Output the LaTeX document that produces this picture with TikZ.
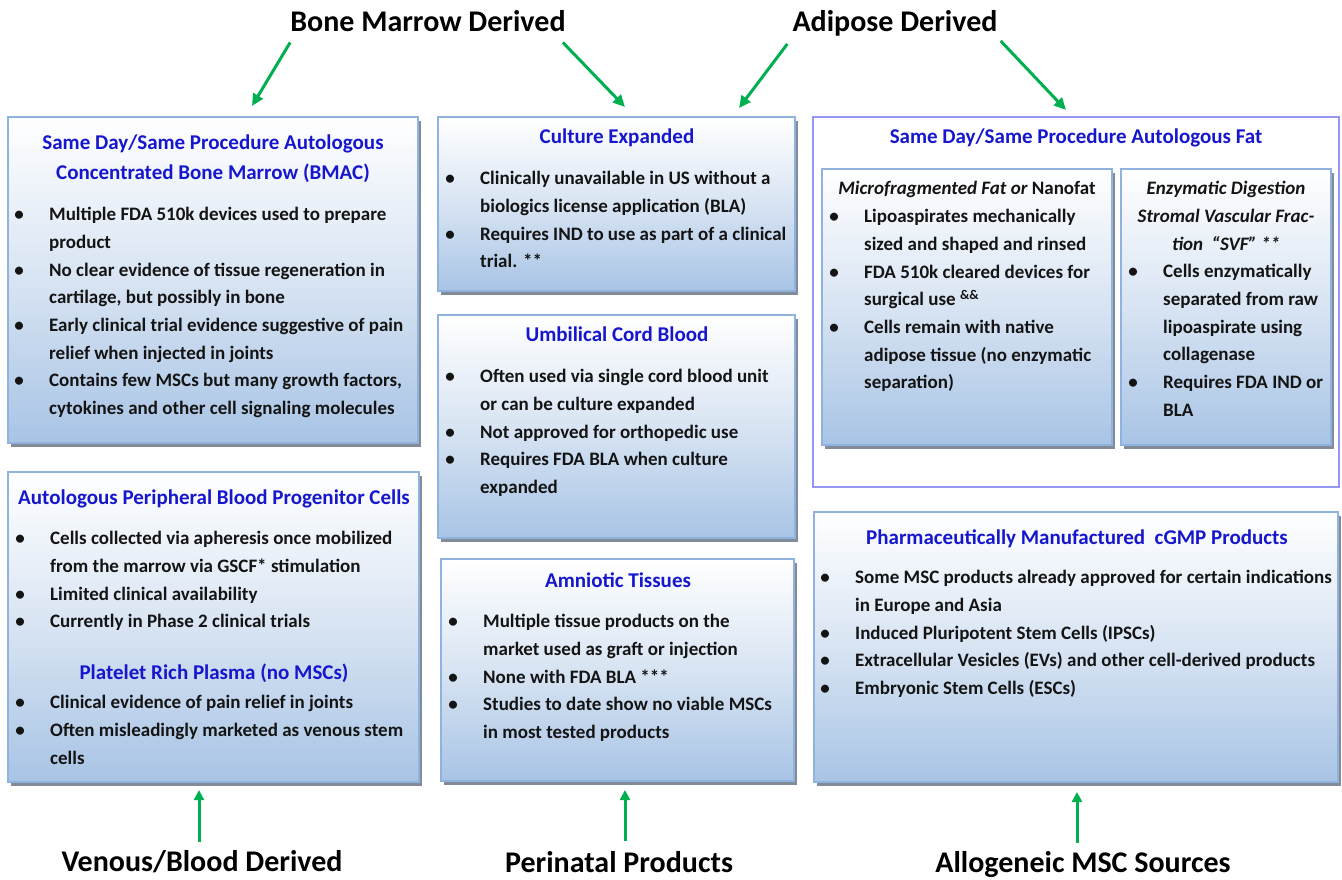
\documentclass[tikz,border=0pt]{standalone}
\usepackage{fontspec}
\setmainfont{Carlito}
\usetikzlibrary{arrows.meta,shadows,calc}
\definecolor{tblue}{RGB}{22,22,205}
\definecolor{bodyk}{RGB}{20,20,20}
\definecolor{bord}{RGB}{143,178,222}
\definecolor{boxbot}{RGB}{168,196,229}
\definecolor{boxmid}{RGB}{216,228,243}
\definecolor{shad}{RGB}{130,140,152}
\definecolor{framec}{RGB}{150,150,245}
\definecolor{agreen}{RGB}{0,176,80}
\newcommand\bl{\leavevmode\llap{\makebox[30pt][l]{\makebox[0pt][c]{\textbullet}}}\strut}
\newcommand\bodyfont{\fontsize{19}{27.7}\selectfont\bfseries}
\newcommand\ttlfont{\fontsize{21}{28}\selectfont\bfseries}
\tikzset{
  bx/.style={draw=bord, line width=1.6pt, top color=white, bottom color=boxbot, middle color=boxmid,
    inner sep=0pt, outer sep=0pt, anchor=north west,
    drop shadow={shadow xshift=3pt, shadow yshift=-4pt, fill=shad, opacity=1}},
  framebox/.style={draw=framec, line width=1.3pt, fill=white, inner sep=0pt, outer sep=0pt, anchor=north west},
  body/.style={anchor=north west, inner sep=0pt, align=left, font=\bodyfont, text=bodyk},
  ttl/.style={anchor=base, inner sep=0pt, font=\ttlfont, text=tblue},
  ttlk/.style={anchor=base, inner sep=0pt, font=\fontsize{19}{28}\selectfont\bfseries, text=bodyk},
  lab/.style={anchor=base, inner sep=0pt, font=\fontsize{30}{36}\selectfont\bfseries, text=black},
  garrow/.style={draw=agreen, line width=3pt, -{Triangle[length=12pt,width=11pt]}},
  garrowb/.style={draw=agreen, line width=3pt, -{Triangle[length=10pt,width=10pt]}}
}
\begin{document}
\begin{tikzpicture}[x=1pt,y=-1pt]
\useasboundingbox (0,0) rectangle (1342,880);
% ---------- boxes ----------
\node[bx, minimum width=410pt, minimum height=326pt] (bmac) at (8,117) {};
\node[bx, minimum width=411pt, minimum height=310pt] (pbpc) at (8,472) {};
\node[bx, minimum width=357pt, minimum height=174pt] (cult) at (438,117) {};
\node[bx, minimum width=357pt, minimum height=223pt] (ucb) at (438,315) {};
\node[bx, minimum width=353pt, minimum height=222pt] (amn) at (441,559) {};
\node[framebox, minimum width=526pt, minimum height=370pt] (fat) at (813,117) {};
\node[bx, minimum width=290pt, minimum height=276pt] (micro) at (822,169) {};
\node[bx, minimum width=210pt, minimum height=276pt] (enz) at (1121,169) {};
\node[bx, minimum width=524pt, minimum height=270pt] (pharma) at (814,512) {};
% ---------- BMAC ----------
\node[ttl, anchor=north, align=center, font=\fontsize{21}{29.5}\selectfont\bfseries] (bmact) at (213,{149.5-20.65})
  {\strut Same Day/Same Procedure Autologous\\Concentrated Bone Marrow (BMAC)};
\node[body] (bmacb) at (49,{220.5-19.39}) {\bl Multiple FDA 510k devices used to prepare\\
product\\
\bl No clear evidence of tissue regeneration in\\
cartilage, but possibly in bone\\
\bl Early clinical trial evidence suggestive of pain\\
relief when injected in joints\\
\bl Contains few MSCs but many growth factors,\\
cytokines and other cell signaling molecules};
% ---------- PBPC ----------
\node[ttl] (pbpct) at (214,504) {Autologous Peripheral Blood Progenitor Cells};
\node[body] (pbpcb) at (50,{544.5-19.39}) {\bl Cells collected via apheresis once mobilized\\
from the marrow via GSCF* stimulation\\
\bl Limited clinical availability\\
\bl Currently in Phase 2 clinical trials};
\node[ttl] (prpt) at (214,679) {Platelet Rich Plasma (no MSCs)};
\node[body] (prpb) at (50,{708.5-19.39}) {\bl Clinical evidence of pain relief in joints\\
\bl Often misleadingly marketed as venous stem\\
cells};
% ---------- Culture ----------
\node[ttl] (cultt) at (617,144) {Culture Expanded};
\node[body] (cultb) at (480,{184.5-19.39}) {\bl Clinically unavailable in US without a\\
biologics license application (BLA)\\
\bl Requires IND to use as part of a clinical\\
trial. **};
% ---------- UCB ----------
\node[ttl] (ucbt) at (617,341.5) {Umbilical Cord Blood};
\node[body] (ucbb) at (480,{382.5-19.39}) {\bl Often used via single cord blood unit\\
or can be culture expanded\\
\bl Not approved for orthopedic use\\
\bl Requires FDA BLA when culture\\
expanded};
% ---------- Amniotic ----------
\node[ttl] (amnt) at (618,587) {Amniotic Tissues};
\node[body] (amnb) at (483,{627.5-19.39}) {\bl Multiple tissue products on the\\
market used as graft or injection\\
\bl None with FDA BLA ***\\
\bl Studies to date show no viable MSCs\\
in most tested products};
% ---------- Fat ----------
\node[ttl] (fatt) at (1076,143.5) {Same Day/Same Procedure Autologous Fat};
\node[ttlk] (microt) at (967,194) {\itshape Microfragmented Fat or \upshape Nanofat};
\node[body] (microb) at (864,{222.5-19.39}) {\bl Lipoaspirates mechanically\\
sized and shaped and rinsed\\
\bl FDA 510k cleared devices for\\
surgical use \textsuperscript{\&\&}\\
\bl Cells remain with native\\
adipose tissue (no enzymatic\\
separation)};
\node[ttlk, anchor=north, align=center, font=\fontsize{19}{28}\selectfont\bfseries\itshape] (enzt) at (1226,{194-19.6})
  {\strut Enzymatic Digestion\\Stromal Vascular Frac-\\tion\ \ “SVF” **};
\node[body] (enzb) at (1163,{277.5-19.39}) {\bl Cells enzymatically\\
separated from raw\\
lipoaspirate using\\
collagenase\\
\bl Requires FDA IND or\\
BLA};
% ---------- Pharma ----------
\node[ttl] (pharmat) at (1077,544) {Pharmaceutically Manufactured\ \ cGMP Products};
\node[body] (pharmab) at (855,{583.5-19.39}) {\bl Some MSC products already approved for certain indications\\
in Europe and Asia\\
\bl Induced Pluripotent Stem Cells (IPSCs)\\
\bl Extracellular Vesicles (EVs) and other cell-derived products\\
\bl Embryonic Stem Cells (ESCs)};
% ---------- labels ----------
\node[lab] (bm) at (428,32) {Bone Marrow Derived};
\node[lab] (ad) at (895,32) {Adipose Derived};
\node[lab] (vb) at (202,871) {Venous/Blood Derived};
\node[lab] (pp) at (619,872) {Perinatal Products};
\node[lab] (al) at (1083,872) {Allogeneic MSC Sources};
% ---------- arrows ----------
\coordinate (a1) at (252,106);
\coordinate (a2) at (625,107);
\coordinate (a3) at (739,108);
\coordinate (a4) at (1066,110);
\coordinate (b1) at (199,790);
\coordinate (b2) at (625,790);
\coordinate (b3) at (1077,792);
\draw[garrow] ([yshift=-10pt]bm.south west) -- (a1);
\draw[garrow] ([xshift=-3pt,yshift=-10pt]bm.south east) -- (a2);
\draw[garrow] ([xshift=-5pt,yshift=-7pt]ad.south west) -- (a3);
\draw[garrow] ([xshift=3pt,yshift=-4pt]ad.south east) -- (a4);
\draw[garrowb] ($(vb.north -| b1)+(0,-8)$) -- (b1);
\draw[garrowb] ($(pp.north -| b2)+(0,-10)$) -- (b2);
\draw[garrowb] ($(al.north -| b3)+(0,-8)$) -- (b3);
\end{tikzpicture}
\end{document}
